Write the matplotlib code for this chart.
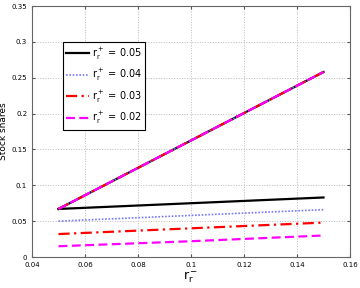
import numpy as np
import matplotlib.pyplot as plt

# values
r_minus = [0.05, 0.10, 0.15]
r_plus_labels = ["0.05", "0.04", "0.03", "0.02"]
upper = [0.067, 0.1625, 0.258]
lower_005 = [0.067, 0.075, 0.083]
lower_004 = [0.050, 0.058, 0.066]
lower_003 = [0.032, 0.040, 0.048]
lower_002 = [0.015, 0.022, 0.030]

styles = [
    dict(color="black", linestyle="-", linewidth=1.6),
    dict(color="#7777ff", linestyle=(0, (1, 1)), linewidth=1.2),
    dict(color="red", linestyle=(0, (5, 2, 1, 2)), linewidth=1.6),
    dict(color="magenta", linestyle=(0, (4, 2)), linewidth=1.6),
]
lowers = [lower_005, lower_004, lower_003, lower_002]

fig = plt.figure(figsize=(3.6, 2.88), dpi=100, facecolor="white")
ax = fig.add_axes([32 / 360, 1 - 257 / 288, 318 / 360, 251 / 288])

for lab, low, st in zip(r_plus_labels, lowers, styles):
    ax.plot(r_minus, low, label=r"$\mathregular{r_r^+}$ = " + lab, **st)
    ax.plot(r_minus, upper, **st)

ax.set_xlim(0.04, 0.16)
ax.set_ylim(0, 0.35)
ax.set_xticks(np.arange(0.04, 0.161, 0.02))
ax.set_yticks(np.arange(0, 0.351, 0.05))
ax.set_xticklabels(["0.04", "0.06", "0.08", "0.1", "0.12", "0.14", "0.16"])
ax.set_yticklabels(["0", "0.05", "0.1", "0.15", "0.2", "0.25", "0.3", "0.35"])
ax.tick_params(labelsize=5, length=2, direction="in", color="#555555", top=True, right=True)
ax.grid(True, linestyle=":", color="#bbbbbb", linewidth=0.7)
for s in ax.spines.values():
    s.set_color("#666666")
    s.set_linewidth(0.8)

ax.set_xlabel(r"$\mathregular{r_r^-}$", fontsize=9, labelpad=1)
ax.set_ylabel("Stock shares", fontsize=6.5)
ax.yaxis.set_label_coords(-0.075, 0.5)

leg = ax.legend(loc="upper left", bbox_to_anchor=(0.097, 0.855), fontsize=7,
                fancybox=False, edgecolor="black", handlelength=2.3,
                handletextpad=0.3, borderpad=0.35, labelspacing=0.55,
                borderaxespad=0, framealpha=1)
leg.get_frame().set_linewidth(0.8)

fig.savefig("out.png", dpi=100)
